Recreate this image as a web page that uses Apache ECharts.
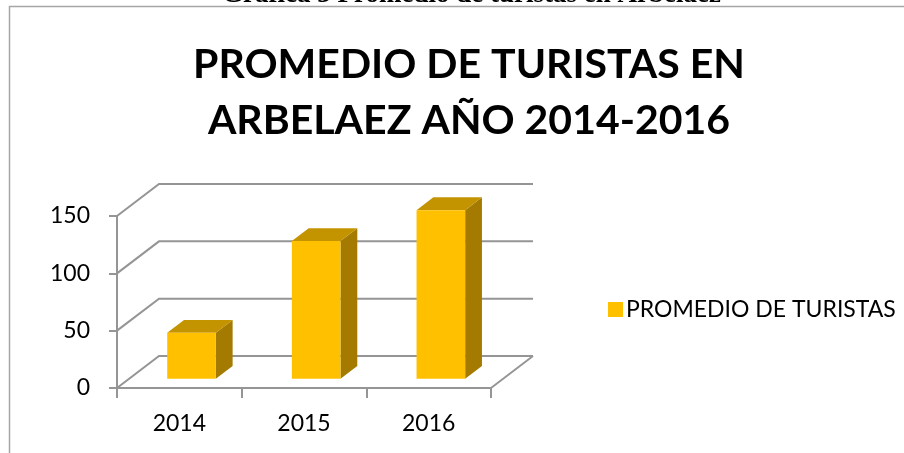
<!DOCTYPE html>
<html>
<head>
<meta charset="utf-8">
<script src="https://cdn.jsdelivr.net/npm/echarts@6/dist/echarts.min.js"></script>
<style>html,body{margin:0;padding:0;background:#fff;}#c{width:904px;height:453px;}</style>
</head>
<body>
<div id="c"></div>
<script>
const categories = ['2014', '2015', '2016'];
const turistas = [40, 120, 147];
const yTicks = [0, 50, 100, 150];
const seriesName = 'PROMEDIO DE TURISTAS';
const titleText = 'PROMEDIO DE TURISTAS EN\nARBELAEZ AÑO 2014-2016';
const captionText = 'Gráfica 3 Promedio de turistas en Arbelaez';

const DX = 42, DY = -32;      // depth of the 3D box (px)
const F0 = 0.29, F1 = 0.69;   // bar front/back depth fractions
const BARW = 0.39;            // bar width as fraction of band
const GRID = '#959595';
const FONT = 'Lato';

const chart = echarts.init(document.getElementById('c'));

function wallsRender(params, api) {
  const cs = params.coordSys;
  const v = api.value(0);
  const y = api.coord([0, v])[1];
  const left = cs.x, right = cs.x + cs.width;
  const children = [{
    type: 'polyline',
    shape: { points: [[left, y], [left + DX, y + DY], [right + DX, y + DY]] },
    style: { stroke: GRID, lineWidth: 2, fill: null }
  }];
  if (v === 0) {
    children.push({
      type: 'line',
      shape: { x1: right, y1: y, x2: right + DX, y2: y + DY },
      style: { stroke: GRID, lineWidth: 2 }
    });
  }
  return { type: 'group', children };
}

function barRender(params, api) {
  const idx = api.value(0);
  const val = api.value(1);
  const base = api.coord([idx, 0]);
  const top = api.coord([idx, val]);
  const band = api.size([1, 0])[0];
  const w = band * BARW;
  const ox = F0 * DX, oy = F0 * DY;
  const bx = (F1 - F0) * DX, by = (F1 - F0) * DY;
  const x0 = base[0] + ox - w / 2, x1 = x0 + w;
  const yb = base[1] + oy, yt = top[1] + oy;
  return {
    type: 'group',
    children: [
      { type: 'polygon', shape: { points: [[x1, yt], [x1 + bx, yt + by], [x1 + bx, yb + by], [x1, yb]] },
        style: { fill: '#A47B00' } },
      { type: 'polygon', shape: { points: [[x0, yt], [x1, yt], [x1 + bx, yt + by], [x0 + bx, yt + by]] },
        style: { fill: '#C49300' } },
      { type: 'rect', shape: { x: x0, y: yt, width: w, height: yb - yt },
        style: { fill: '#FFC000' } }
    ]
  };
}

chart.setOption({
  animation: false,
  backgroundColor: '#fff',
  title: {
    text: titleText,
    left: 464, top: 32, textAlign: 'center',
    textStyle: { fontFamily: FONT, fontWeight: 'bold', fontSize: 41, lineHeight: 56, color: '#000' }
  },
  graphic: [
    { type: 'rect', shape: { x: 9.5, y: 6.5, width: 1200, height: 1200 },
      style: { fill: null, stroke: '#a6a6a6', lineWidth: 1.5 }, silent: true, z: 10 },
    { type: 'text', left: 222, top: -18, z: 10,
      style: { text: captionText, fontFamily: 'Liberation Serif', fontWeight: 'bold', fontSize: 27,
               fill: '#000' } }
  ],
  legend: {
    data: [seriesName],
    left: 603, top: 293,
    icon: 'rect', itemWidth: 15, itemHeight: 15, itemGap: 8,
    textStyle: { fontFamily: FONT, fontSize: 23, color: '#000', padding: [0, 0, 0, -2] }
  },
  grid: { left: 117, right: 413, top: 216, bottom: 65 },
  xAxis: {
    type: 'category', data: categories, boundaryGap: true,
    axisLine: { lineStyle: { color: GRID, width: 2 } },
    axisTick: { show: true, length: 10, alignWithLabel: false, lineStyle: { color: GRID, width: 2 } },
    axisLabel: { fontFamily: FONT, fontSize: 23, color: '#000', margin: 24 },
    splitLine: { show: false }
  },
  yAxis: {
    type: 'value', min: 0, max: 150, interval: 50,
    axisLine: { show: true, lineStyle: { color: GRID, width: 2 } },
    axisTick: { show: true, length: 8, lineStyle: { color: GRID, width: 2 } },
    axisLabel: { fontFamily: FONT, fontSize: 23, color: '#000', margin: 27 },
    splitLine: { show: false }
  },
  series: [
    { type: 'custom', name: 'walls', renderItem: wallsRender, data: yTicks.map(v => [v]),
      encode: { y: 0 }, silent: true, z: 1 },
    { type: 'custom', name: seriesName, renderItem: barRender,
      itemStyle: { color: '#FFC000' },
      data: turistas.map((v, i) => [i, v]), encode: { x: 0, y: 1 }, z: 2 }
  ]
});
</script>
</body>
</html>
